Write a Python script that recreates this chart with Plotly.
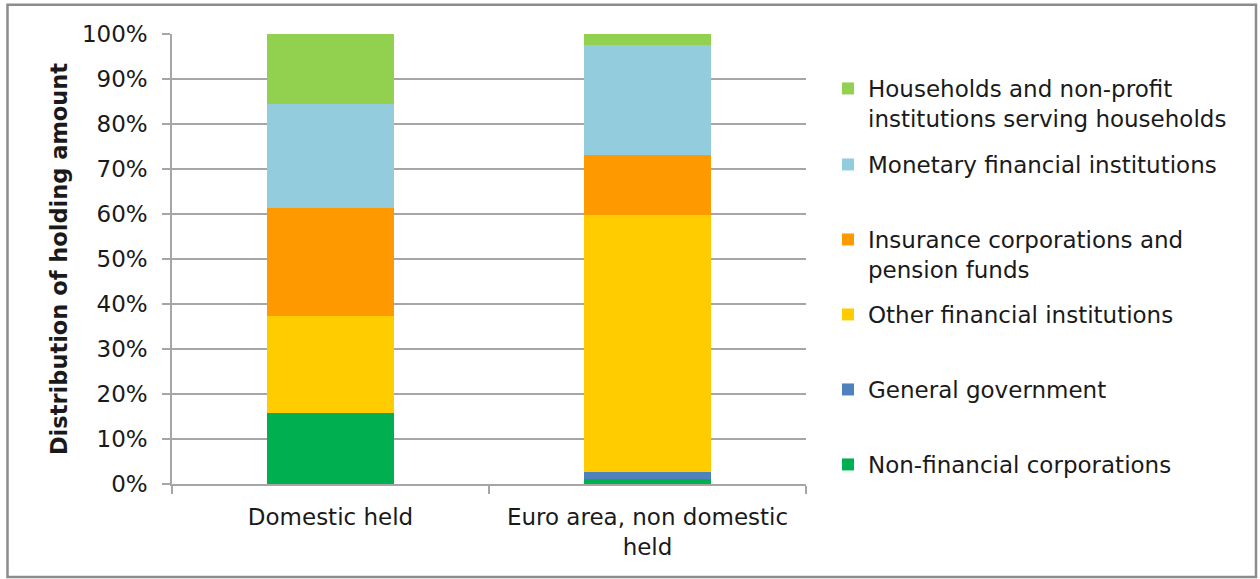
import plotly.graph_objects as go

# Holder categories and their share (%) of the holding amount
categories = ["Domestic held", "Euro area, non domestic<br>held"]

sectors = [
    "Non-financial corporations",
    "General government",
    "Other financial institutions",
    "Insurance corporations and<br>pension funds",
    "Monetary financial institutions",
    "Households and non-profit<br>institutions serving households",
]

non_financial_corp = [15.8, 1.2]
general_government = [0.0, 1.5]
other_financial = [21.6, 57.0]
insurance_pension = [23.9, 13.4]
monetary_financial = [23.1, 24.4]
households_npish = [15.6, 2.5]

series_values = [
    non_financial_corp,
    general_government,
    other_financial,
    insurance_pension,
    monetary_financial,
    households_npish,
]

colors = ["#00B050", "#4F81BD", "#FFCC00", "#FF9900", "#93CDDD", "#92D050"]

y_ticks = list(range(0, 101, 10))

FONT = "DejaVu Sans"
TEXT = "#1a1a1a"
GRID = "#a6a6a6"

# plot-area geometry in pixels
W, H = 1260, 579
L, R, T, B = 172, 454, 34, 95
PW, PH = W - L - R, H - T - B

fig = go.Figure()

legend_names = ["legend", "legend2", "legend3", "legend4", "legend5", "legend6"]
for name, vals, col, lg in zip(sectors, series_values, colors, legend_names):
    fig.add_trace(go.Bar(
        x=categories, y=vals, name=name, marker=dict(color=col, line=dict(width=0)),
        legend=lg, hoverinfo="x+y+name",
    ))

# one legend box per series, evenly spaced down the right side
row_centres = {"legend6": 89, "legend5": 165, "legend4": 240,
               "legend3": 315, "legend2": 390, "legend": 465}
legend_x = (828 - L) / PW
legend_layout = {}
for lg, c in row_centres.items():
    legend_layout[lg] = dict(
        x=legend_x, xanchor="left",
        y=(H - B - (c - 22)) / PH, yanchor="top",
        bgcolor="rgba(0,0,0,0)", borderwidth=0,
        font=dict(family=FONT, size=23, color=TEXT),
        valign="top", itemclick=False, itemdoubleclick=False,
    )

fig.update_layout(
    width=W, height=H,
    margin=dict(l=L, r=R, t=T, b=B, autoexpand=False),
    paper_bgcolor="white", plot_bgcolor="white",
    barmode="stack", bargap=0.6,
    showlegend=True,
    font=dict(family=FONT, size=23, color=TEXT),
    **legend_layout,
)

fig.update_xaxes(
    showline=True, linecolor=GRID, linewidth=1.5,
    ticks="outside", ticklen=8, tickcolor=GRID, tickwidth=1.5,
    tickson="boundaries", ticklabelstandoff=12,
    tickfont=dict(family=FONT, size=23, color=TEXT),
    showgrid=False, automargin=False,
)

fig.update_yaxes(
    range=[0, 100], tickvals=y_ticks, ticktext=[f"{v}%" for v in y_ticks],
    showline=True, linecolor=GRID, linewidth=1.5,
    ticks="outside", ticklen=8, tickcolor=GRID, tickwidth=1.5,
    ticklabelstandoff=10,
    showgrid=True, gridcolor=GRID, gridwidth=1.5,
    zeroline=False,
    tickfont=dict(family=FONT, size=23, color=TEXT),
    title=dict(text="<b>Distribution of holding amount</b>",
               font=dict(family=FONT, size=22.5, color=TEXT), standoff=8),
    automargin=False,
)

# chart frame
fig.add_shape(
    type="rect", xref="paper", yref="paper",
    x0=(7.5 - L) / PW, x1=(1256 - L) / PW,
    y0=(H - B - 577) / PH, y1=(H - B - 4.7) / PH,
    line=dict(color="#8c8c8c", width=2.5), fillcolor="rgba(0,0,0,0)",
    layer="below",
)

fig.write_html("out.html")
